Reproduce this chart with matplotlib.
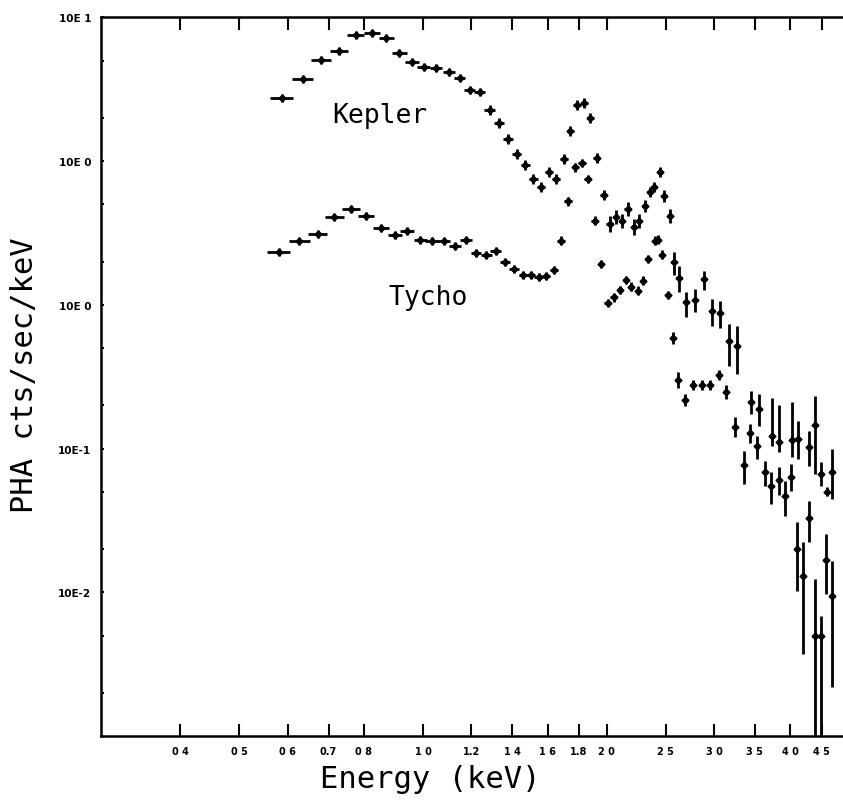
import matplotlib
matplotlib.use('Agg')
import matplotlib.pyplot as plt
import numpy as np
from matplotlib.ticker import FixedLocator, FixedFormatter, LogLocator, NullFormatter, NullLocator

# Kepler: energy (keV), rate (cts/sec/keV), error bar half lengths in decades (down, up)
kep_e = [0.587, 0.635, 0.681, 0.729, 0.776, 0.825, 0.871, 0.915, 0.959, 1.002,
         1.050, 1.104, 1.148, 1.192, 1.238, 1.286, 1.331, 1.379, 1.424, 1.472,
         1.516, 1.562, 1.609, 1.654, 1.705, 1.744, 1.788, 1.838, 1.880, 1.928,
         1.977, 2.022, 2.074, 2.119, 2.164, 2.214, 2.262, 2.308, 2.352, 2.394,
         2.442, 2.486, 2.536, 2.575, 2.631, 2.701, 2.795, 2.884, 2.976, 3.071,
         3.169, 3.266, 3.452, 3.549, 3.733, 3.838, 4.026, 4.118, 4.297, 4.396,
         4.490, 4.594, 4.680]
kep_f = [2.74, 3.73, 5.06, 5.87, 7.55, 7.80, 7.17, 5.64, 4.88, 4.50,
         4.45, 4.16, 3.78, 3.13, 3.02, 2.28, 1.84, 1.43, 1.13, 0.944,
         0.746, 0.658, 0.841, 0.748, 1.036, 1.63, 2.47, 2.53, 2.00, 1.05,
         0.585, 0.366, 0.407, 0.385, 0.465, 0.347, 0.385, 0.490, 0.608, 0.658,
         0.845, 0.570, 0.418, 0.198, 0.153, 0.105, 0.109, 0.151, 0.0900, 0.0878,
         0.0563, 0.0518, 0.0210, 0.0189, 0.0123, 0.0112, 0.0115, 0.0117, 0.0102, 0.0147,
         0.00665, 0.00501, 0.00684]
kep_dn = [0.028, 0.028, 0.028, 0.028, 0.028, 0.028, 0.028, 0.028, 0.028, 0.028,
          0.028, 0.028, 0.028, 0.028, 0.028, 0.035, 0.035, 0.035, 0.035, 0.035,
          0.035, 0.035, 0.035, 0.035, 0.035, 0.035, 0.035, 0.035, 0.035, 0.035,
          0.035, 0.056, 0.049, 0.049, 0.049, 0.056, 0.049, 0.042, 0.035, 0.035,
          0.035, 0.042, 0.049, 0.086, 0.095, 0.109, 0.088, 0.074, 0.099, 0.104,
          0.174, 0.195, 0.081, 0.116, 0.070, 0.072, 0.116, 0.139, 0.128, 0.343,
          0.081, 0.030, 0.186]
kep_up = [0.028, 0.028, 0.028, 0.028, 0.028, 0.028, 0.028, 0.028, 0.028, 0.028,
          0.028, 0.028, 0.028, 0.028, 0.028, 0.035, 0.035, 0.035, 0.035, 0.035,
          0.035, 0.035, 0.035, 0.035, 0.035, 0.035, 0.035, 0.035, 0.035, 0.035,
          0.035, 0.056, 0.049, 0.049, 0.049, 0.056, 0.049, 0.042, 0.035, 0.035,
          0.035, 0.042, 0.049, 0.072, 0.086, 0.065, 0.070, 0.058, 0.087, 0.086,
          0.116, 0.137, 0.081, 0.104, 0.260, 0.255, 0.264, 0.127, 0.116, 0.198,
          0.084, 0.033, 0.162]

# Tycho
tyc_e = [0.580, 0.627, 0.672, 0.716, 0.762, 0.807, 0.853, 0.900, 0.943, 0.990,
         1.034, 1.081, 1.130, 1.176, 1.222, 1.270, 1.315, 1.364, 1.411, 1.459,
         1.503, 1.547, 1.592, 1.637, 1.684, 1.729, 1.777, 1.822, 1.862, 1.911,
         1.958, 2.007, 2.053, 2.106, 2.152, 2.195, 2.248, 2.294, 2.335, 2.397,
         2.431, 2.465, 2.518, 2.570, 2.614, 2.692, 2.771, 2.866, 2.958, 3.052,
         3.142, 3.250, 3.354, 3.440, 3.528, 3.630, 3.723, 3.827, 3.918, 4.010,
         4.096, 4.201, 4.293, 4.392, 4.486, 4.576, 4.673]
tyc_f = [0.2345, 0.280, 0.311, 0.407, 0.465, 0.414, 0.343, 0.308, 0.325, 0.284,
         0.277, 0.280, 0.258, 0.284, 0.230, 0.2236, 0.236, 0.200, 0.178, 0.1615,
         0.1615, 0.1556, 0.158, 0.176, 0.280, 0.526, 0.907, 0.972, 0.752, 0.385,
         0.1926, 0.1031, 0.1130, 0.127, 0.149, 0.1338, 0.1256, 0.1474, 0.2087, 0.280,
         0.284, 0.2236, 0.1172, 0.0589, 0.0302, 0.0219, 0.0277, 0.0278, 0.0275, 0.0323,
         0.0246, 0.01407, 0.00773, 0.01284, 0.01047, 0.00684, 0.00552, 0.0060, 0.0047, 0.00634,
         0.0020, 0.00129, 0.00327, 0.000499, 0.000499, 0.00168, 0.000947]
tyc_dn = [0.028, 0.028, 0.028, 0.028, 0.028, 0.028, 0.028, 0.028, 0.028, 0.028,
          0.028, 0.028, 0.028, 0.028, 0.028, 0.028, 0.028, 0.028, 0.028, 0.028,
          0.028, 0.028, 0.028, 0.028, 0.030, 0.030, 0.030, 0.030, 0.030, 0.030,
          0.030, 0.030, 0.030, 0.030, 0.030, 0.030, 0.030, 0.030, 0.030, 0.030,
          0.030, 0.030, 0.030, 0.042, 0.056, 0.042, 0.035, 0.035, 0.035, 0.035,
          0.049, 0.070, 0.134, 0.070, 0.093, 0.093, 0.127, 0.104, 0.139, 0.097,
          0.290, 0.541, 0.167, 1.000, 1.000, 0.237, 0.637]
tyc_up = [0.028, 0.028, 0.028, 0.028, 0.028, 0.028, 0.028, 0.028, 0.028, 0.028,
          0.028, 0.028, 0.028, 0.028, 0.028, 0.028, 0.028, 0.028, 0.028, 0.028,
          0.028, 0.028, 0.028, 0.028, 0.030, 0.030, 0.030, 0.030, 0.030, 0.030,
          0.030, 0.030, 0.030, 0.030, 0.030, 0.030, 0.030, 0.030, 0.030, 0.030,
          0.030, 0.030, 0.030, 0.042, 0.056, 0.042, 0.035, 0.035, 0.035, 0.035,
          0.049, 0.070, 0.097, 0.063, 0.070, 0.081, 0.095, 0.094, 0.104, 0.090,
          0.188, 0.239, 0.122, 0.395, 0.139, 0.181, 0.244]

half_bin = 0.025  # keV

xtick_vals = [0.4, 0.5, 0.6, 0.7, 0.8, 1.0, 1.2, 1.4, 1.6, 1.8, 2.0, 2.5, 3.0, 3.5, 4.0, 4.5]
xtick_labels = ['0 4', '0 5', '0 6', '0.7', '0 8', '1 0', '1.2', '1 4', '1 6', '1.8',
                '2 0', '2 5', '3 0', '3 5', '4 0', '4 5']
ytick_vals = [1e1, 1e0, 1e-1, 1e-2, 1e-3]
ytick_labels = ['10E 1', '10E 0', '10E 0', '10E-1', '10E-2']

fig = plt.figure(figsize=(8.43, 8.03), dpi=100)
ax = fig.add_axes([0.1198, 0.0822, 0.8802, 0.8948])
ax.set_xscale('log')
ax.set_yscale('log')


def draw(e, f, dn, up):
    f = np.array(f)
    lo = f - f * 10 ** (-np.array(dn))
    hi = f * 10 ** np.array(up) - f
    ax.errorbar(e, f, xerr=half_bin, yerr=[lo, hi], fmt='D', ms=3.5,
                color='black', ecolor='black', elinewidth=2.0, capsize=0)


draw(kep_e, kep_f, kep_dn, kep_up)
draw(tyc_e, tyc_f, tyc_dn, tyc_up)

ax.set_xlim(0.2966, 4.88)
ax.set_ylim(1e-4, 1e1)

ax.xaxis.set_major_locator(FixedLocator(xtick_vals))
ax.xaxis.set_major_formatter(FixedFormatter(xtick_labels))
ax.xaxis.set_minor_locator(NullLocator())
ax.yaxis.set_major_locator(FixedLocator(ytick_vals))
ax.yaxis.set_major_formatter(FixedFormatter(ytick_labels))
ax.yaxis.set_minor_locator(LogLocator(base=10, subs=(2.0, 5.0)))
ax.yaxis.set_minor_formatter(NullFormatter())

ax.tick_params(axis='x', which='major', direction='in', top=True, length=9,
               width=1.5, labelsize=7, pad=7)
ax.tick_params(axis='y', which='both', direction='in', right=False, length=2.5,
               width=1.5, labelsize=7.5, pad=7)
for lab in ax.get_xticklabels() + ax.get_yticklabels():
    lab.set_fontweight('bold')

for s in ['left', 'bottom', 'top']:
    ax.spines[s].set_linewidth(1.8)
ax.spines['right'].set_visible(False)

ax.text(0.851, 2.10, 'Kepler', ha='center', va='center', fontsize=19,
        family='DejaVu Sans Mono')
ax.text(1.02, 0.1135, 'Tycho', ha='center', va='center', fontsize=19,
        family='DejaVu Sans Mono')

fig.text(25 / 843, 1 - 375 / 803, 'PHA cts/sec/keV', rotation=90, ha='center',
         va='center', fontsize=22, family='DejaVu Sans Mono')
fig.text(430 / 843, 1 - 780 / 803, 'Energy (keV)', ha='center', va='center',
         fontsize=22, family='DejaVu Sans Mono')

fig.savefig('out.png', dpi=100)
